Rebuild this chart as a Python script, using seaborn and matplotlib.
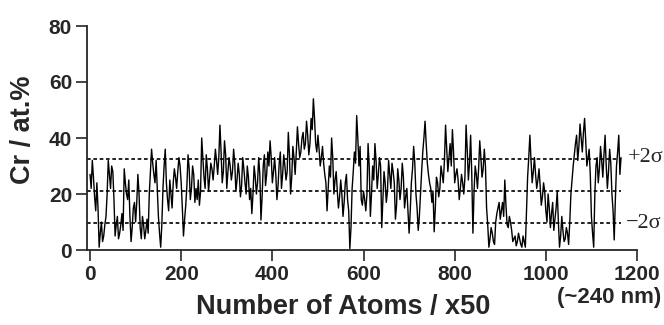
import numpy as np
import pandas as pd
import matplotlib
matplotlib.use("Agg")
import matplotlib.pyplot as plt
import seaborn as sns

# Cr concentration (at.%) read every 5 blocks (of 50 atoms) ...
step = 5
cr_values = [
    27, 32, 19, 24, 1, 10, 5, 12, 32, 22,
    28, 5, 12, 6, 13, 29, 20, 25, 3, 15,
    10, 27, 8, 12, 4, 11, 20, 36, 27, 32,
    12, 1, 22, 36, 18, 25, 15, 29, 22, 33,
    24, 5, 16, 34, 18, 30, 17, 18, 16, 40,
    26, 34, 21, 31, 25, 36, 27, 44.6, 24, 39,
    22, 33, 25, 36, 21, 31, 19, 33, 24, 30,
    18, 13, 30, 20, 33, 10.7, 30, 23, 35, 39,
    24, 33, 18, 31, 22, 34, 25, 42, 20, 37,
    27, 44, 33, 40, 36, 46, 34, 47, 54, 38,
    41, 30, 37, 27, 14, 30, 40, 20, 28, 15,
    25, 12, 24, 18, 0.5, 22, 35, 48, 30, 18,
    21, 14, 38, 12, 30, 38, 22, 33, 8, 28,
    17, 32, 22, 28, 11, 29, 18, 31, 15, 22,
    6, 24, 37, 20, 7, 20, 35, 46, 31, 24,
    17, 6.5, 26, 19, 30, 24, 44.6, 28, 38, 43,
    24, 29, 18, 27, 20, 44.6, 25, 41, 6, 30,
    22, 39, 26, 36, 15, 1, 8, 3, 10, 15,
    11, 17, 25, 9, 12, 7, 4, 1.5, 6, 2,
    5, 1, 26, 41, 24, 33, 22, 29, 16, 24,
    14, 20, 8, 17, 11, 21, 1, 12, 3, 8,
    2, 20, 30, 38, 32, 45, 35, 47, 30, 36,
    12, 1, 30, 24, 37, 26, 41, 22, 36, 20,
    3.6, 30, 41, 33,
]
# ... and the readings half-way between them
cr_mid_values = [
    22, 26, 14, 15, 6, 3, 9, 20, 27, 30,
    18, 9, 4, 9, 7, 24, 18, 12, 8, 17,
    17, 20, 4, 9, 7, 6, 28, 31, 24, 22,
    6, 9, 30, 24, 14, 20, 24, 26, 28, 30,
    15, 11, 23, 29, 22, 27, 22, 25, 21, 33,
    22, 29, 26, 29, 30, 32, 33, 35, 28, 34,
    28, 30, 28, 31, 25, 27, 23, 29, 20, 26,
    22, 20, 26, 24, 27, 19, 34, 27, 30, 33,
    28, 27, 23, 35, 27, 30, 28, 34, 26, 33,
    35, 38, 35, 42, 38, 41, 38, 43, 47, 35,
    36, 33, 31, 24, 22, 26, 33, 25, 21, 19,
    20, 17, 27, 14, 8, 28, 31, 40, 37, 16,
    18, 20, 30, 20, 25, 32, 27, 30, 18, 24,
    21, 27, 31, 24, 16, 25, 22, 26, 19, 14,
    14, 29, 31, 15, 12, 28, 40, 38, 27, 22,
    21, 15, 24, 22, 27, 32, 36, 33, 30, 35,
    27, 25, 22, 24, 26, 36, 31, 27, 21, 27,
    29, 33, 29, 30, 9, 4, 6, 2, 13, 17,
    14, 12, 16, 8, 10, 3, 5, 3, 4, 1,
    3, 14, 33, 32, 28, 27, 25, 23, 19, 21,
    10, 15, 13, 7, 15, 10, 5, 7, 4, 6,
    10, 25, 34, 41, 37, 40, 42, 39, 33, 27,
    6, 20, 33, 29, 32, 34, 30, 28, 31, 14,
    18, 35, 27,
]

mean_level = 21.0
plus_2sigma = 32.4
minus_2sigma = 9.8
sigma_labels = ["+2σ", "−2σ"]

x_ticks = [0, 200, 400, 600, 800, 1000, 1200]
y_ticks = [0, 20, 40, 60, 80]

main = pd.DataFrame({"atoms": [i * step for i in range(len(cr_values))],
                     "cr": cr_values})
mid = pd.DataFrame({"atoms": [i * step + step / 2 for i in range(len(cr_mid_values))],
                    "cr": cr_mid_values})
df = pd.concat([main, mid]).sort_values("atoms").reset_index(drop=True)
x_end = df["atoms"].max()

sns.set_style("ticks")
plt.rcParams["font.family"] = ["Liberation Sans", "DejaVu Sans"]

fig = plt.figure(figsize=(6.64, 3.25), dpi=100)
ax = fig.add_axes([87.3 / 664, 75 / 325, 549.7 / 664, 224 / 325])

sns.lineplot(data=df, x="atoms", y="cr", ax=ax, color="black", linewidth=1.0,
             sort=False, estimator=None)

for lvl in [plus_2sigma, mean_level, minus_2sigma]:
    ax.plot([-6, x_end], [lvl, lvl], color="black",
            linewidth=1.2, linestyle=(0, (2.2, 1.6)), zorder=1)

ax.set_xlim(-6, 1200)
ax.set_ylim(0, 80)
ax.set_xticks(x_ticks)
ax.set_yticks(y_ticks)
ax.tick_params(axis="both", direction="out", length=8, width=1.2, labelsize=15, pad=3)
for lab in ax.get_xticklabels() + ax.get_yticklabels():
    lab.set_fontweight("bold")
for s in ["top", "right"]:
    ax.spines[s].set_visible(False)
for s in ["left", "bottom"]:
    ax.spines[s].set_linewidth(1.3)

ax.set_xlabel("Number of Atoms / x50", fontsize=19.5, fontweight="bold")
ax.xaxis.set_label_coords((343 - 87.3) / 549.7, -(294 - 250) / 224)
ax.set_ylabel("Cr / at.%", fontsize=19.5, fontweight="bold")
ax.yaxis.set_label_coords((36 - 87.3) / 549.7, (250 - 130) / 224)

ax.text(1180, 33.2, sigma_labels[0], fontsize=16,
        family=["Liberation Serif", "DejaVu Serif"], va="center", ha="left")
ax.text(1176, 9.6, sigma_labels[1], fontsize=16,
        family=["Liberation Serif", "DejaVu Serif"], va="center", ha="left")
fig.text(609 / 664, 1 - 298 / 325, "(~240 nm)", fontsize=16, fontweight="bold",
         ha="center", va="center")

fig.savefig("out.png", dpi=100)
